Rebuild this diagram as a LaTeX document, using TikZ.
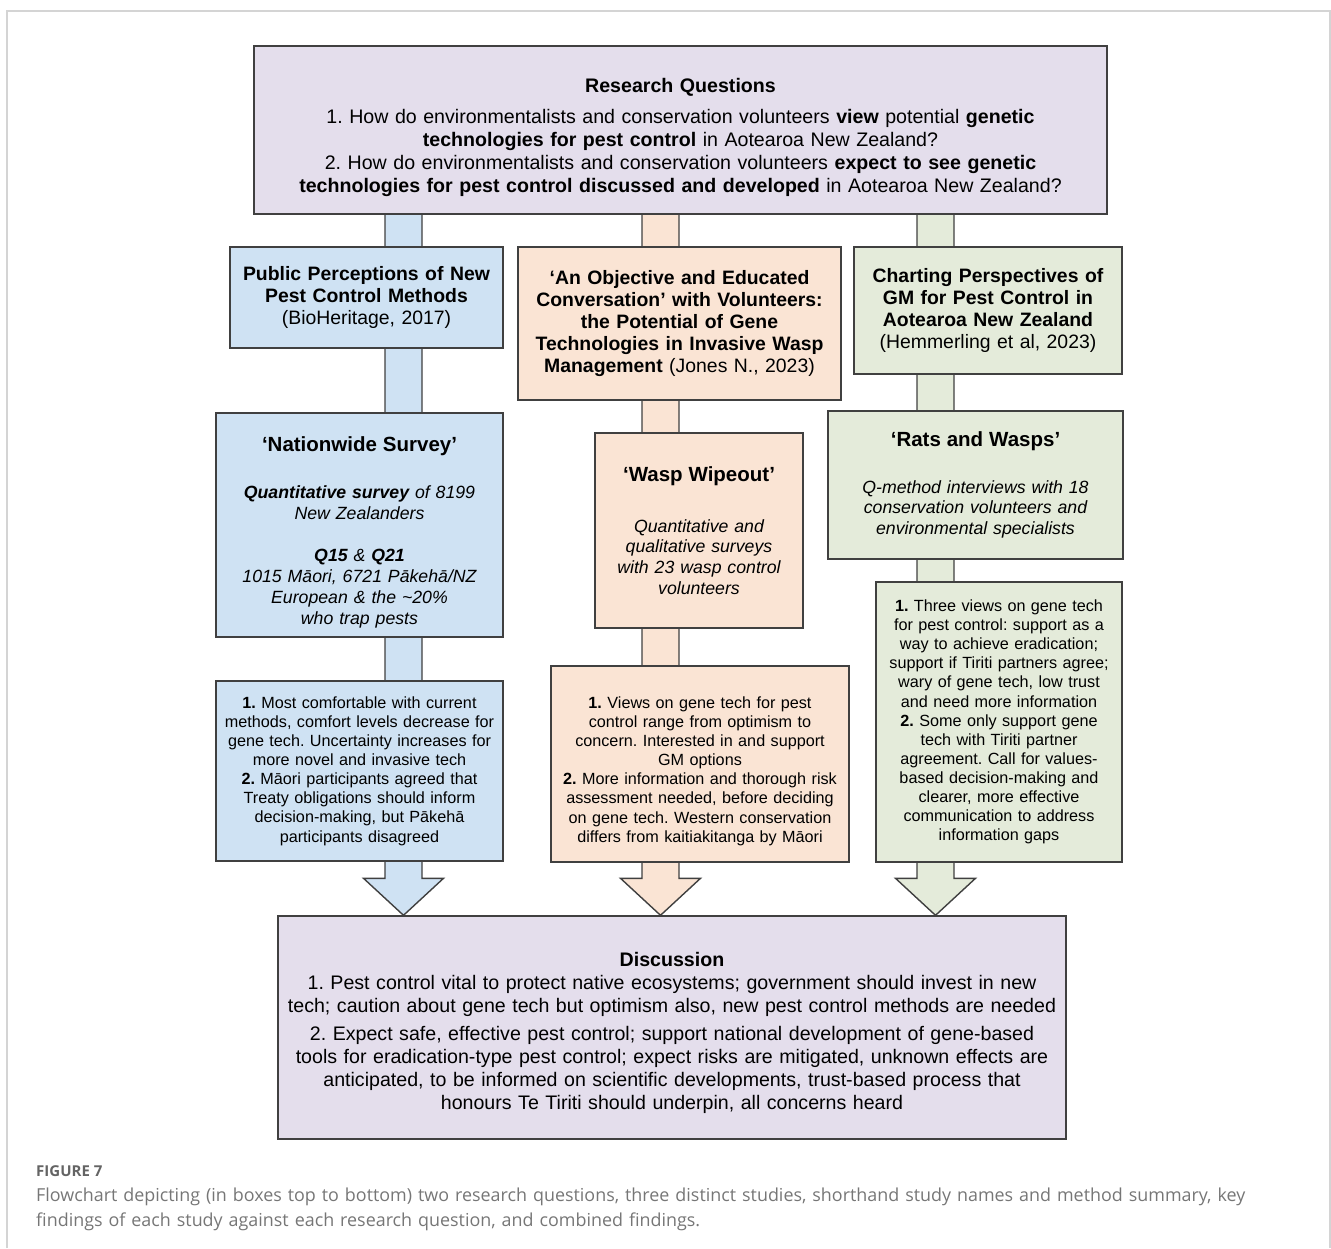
\documentclass[tikz,border=0pt]{standalone}
\usepackage{fontspec}
\setmainfont{Liberation Sans}
\newfontfamily\capfont{Open Sans}
\usetikzlibrary{calc,backgrounds}
\setlength{\parindent}{0pt}
\hyphenpenalty=10000
\frenchspacing

\definecolor{rqfill}{RGB}{228,222,236}
\definecolor{bluefill}{RGB}{207,226,243}
\definecolor{orangefill}{RGB}{250,228,212}
\definecolor{greenfill}{RGB}{228,235,218}
\definecolor{edgec}{RGB}{64,64,64}
\definecolor{framec}{RGB}{212,212,212}
\definecolor{capc}{RGB}{118,118,118}

\newcommand{\setfs}[2]{\fontsize{#1pt}{#2pt}\selectfont}
\newcommand{\toppad}[1]{\rule{0pt}{#1}}

\tikzset{
  box/.style={draw=edgec, line width=1.4pt, inner sep=1pt, align=center},
  stem/.style={draw=edgec, line width=1.4pt},
  headfont/.style={font=\setfs{19.4}{22.2}},
  findfont/.style={font=\setfs{16.2}{19.1}},
}

\begin{document}
\begin{tikzpicture}[x=1pt,y=-1pt]
\useasboundingbox (0,0) rectangle (1331,1248);
\draw[framec, line width=1.2pt] (7,1248) -- (7,11) -- (1330,11) -- (1330,1248);

% research questions
\node[box, fill=rqfill, minimum width=853pt, minimum height=168pt, text width=849pt,
  font=\setfs{19.6}{23}] (rq) at (680.5,130)
  {\toppad{30pt}\textbf{Research Questions}\\[8pt]
   1. How do environmentalists and conservation volunteers \textbf{view} potential \textbf{genetic}\\
   \textbf{technologies for pest control} in Aotearoa New Zealand?\\
   2. How do environmentalists and conservation volunteers \textbf{expect to see genetic}\\
   \textbf{technologies for pest control discussed and developed} in Aotearoa New Zealand?};

% the three studies
\node[box, headfont, fill=bluefill, minimum width=273pt, minimum height=101pt, text width=269pt]
  (pp) at (366.5,297.5)
  {\textbf{Public Perceptions of New}\\ \textbf{Pest Control Methods}\\ (BioHeritage, 2017)};
\node[box, headfont, fill=orangefill, minimum width=323pt, minimum height=153pt, text width=319pt]
  (ob) at (679.5,323.5)
  {\textbf{‘An Objective and Educated}\\ \textbf{Conversation’ with Volunteers:}\\
   \textbf{the Potential of Gene}\\ \textbf{Technologies in Invasive Wasp}\\
   \textbf{Management} (Jones N., 2023)};
\node[box, headfont, fill=greenfill, minimum width=268pt, minimum height=127pt, text width=264pt]
  (ch) at (988,310.5)
  {\textbf{Charting Perspectives of}\\ \textbf{GM for Pest Control in}\\
   \textbf{Aotearoa New Zealand}\\ (Hemmerling et al, 2023)};

% short names and methods
\node[box, fill=bluefill, minimum width=287pt, minimum height=224pt, text width=283pt,
  font=\setfs{17.7}{21}] (ns) at (359.5,525)
  {{\setfs{20.5}{21}\bfseries\toppad{29pt}‘Nationwide Survey’\par}\vspace{26pt}
   \itshape\textbf{Quantitative survey} of 8199\\ New Zealanders\par\vspace{21pt}
   \textbf{Q15} \& \textbf{Q21}\\ 1015 Māori, 6721 Pākehā/NZ\\
   European \& the \textasciitilde 20\%\\ who trap pests};
\node[box, fill=orangefill, minimum width=208pt, minimum height=195pt, text width=204pt,
  font=\setfs{17.7}{20.7}] (ww) at (699,530.5)
  {{\setfs{20.5}{21}\bfseries ‘Wasp Wipeout’\par}\vspace{30pt}
   \itshape Quantitative and\\ qualitative surveys\\ with 23 wasp control\\ volunteers};
\node[box, fill=greenfill, minimum width=295pt, minimum height=148pt, text width=291pt,
  font=\setfs{17.7}{20.5}] (rw) at (975.5,485)
  {{\setfs{20.5}{21}\bfseries ‘Rats and Wasps’\par}\vspace{26pt}
   \itshape Q-method interviews with 18\\ conservation volunteers and\\ environmental specialists};

% key findings
\node[box, findfont, fill=bluefill, minimum width=287pt, minimum height=180pt, text width=283pt]
  (bf) at (359.5,771)
  {\textbf{1.} Most comfortable with current\\ methods, comfort levels decrease for\\
   gene tech. Uncertainty increases for\\ more novel and invasive tech\\
   \textbf{2.} Māori participants agreed that\\ Treaty obligations should inform\\
   decision-making, but Pākehā\\ participants disagreed};
\node[box, findfont, fill=orangefill, minimum width=298pt, minimum height=196pt, text width=294pt]
  (of) at (700,764)
  {\toppad{26pt}\textbf{1.} Views on gene tech for pest\\ control range from optimism to\\
   concern. Interested in and support\\ GM options\\
   \textbf{2.} More information and thorough risk\\ assessment needed, before deciding\\
   on gene tech. Western conservation\\ differs from kaitiakitanga by Māori};
\node[box, findfont, fill=greenfill, minimum width=246pt, minimum height=280pt, text width=244pt]
  (gf) at (999,722)
  {\textbf{1.} Three views on gene tech\\ for pest control: support as a\\
   way to achieve eradication;\\ support if Tiriti partners agree;\\
   wary of gene tech, low trust\\ and need more information\\
   \textbf{2.} Some only support gene\\ tech with Tiriti partner\\
   agreement. Call for values-\\ based decision-making and\\
   clearer, more effective\\ communication to address\\ information gaps};

% discussion
\node[box, fill=rqfill, minimum width=788pt, minimum height=223pt, text width=784pt,
  font=\setfs{19.6}{23}] (dc) at (672,1027.5)
  {\toppad{26pt}\textbf{Discussion}\\
   1. Pest control vital to protect native ecosystems; government should invest in new\\
   tech; caution about gene tech but optimism also, new pest control methods are needed\\[5pt]
   2. Expect safe, effective pest control; support national development of gene-based\\
   tools for eradication-type pest control; expect risks are mitigated, unknown effects are\\
   anticipated, to be informed on scientific developments, trust-based process that\\
   honours Te Tiriti should underpin, all concerns heard};

% stems and block arrows behind the boxes
\coordinate (bluecol) at (403.5,0);
\coordinate (orangecol) at (660.5,0);
\coordinate (greencol) at (935.5,0);
\begin{scope}[on background layer]
\foreach \col in {blue,orange,green}{
  \coordinate (top) at (rq.south -| \col col);
  \coordinate (tip) at (dc.north -| \col col);
  \filldraw[stem, fill=\col fill] ($(top)+(-18.5,0)$) -- ($(tip)+(-18.5,-37)$)
    -- ($(tip)+(-40,-37)$) -- (tip) -- ($(tip)+(40,-37)$)
    -- ($(tip)+(18.5,-37)$) -- ($(top)+(18.5,0)$);
}
\end{scope}

% caption
\node[anchor=base west, inner sep=0pt, font=\capfont\bfseries\setfs{15}{18}, text=capc!85!black]
  (figno) at (36,1176) {FIGURE 7};
\node[anchor=base west, inner sep=0pt, font=\capfont\setfs{17.9}{25}, text=capc, text width=1290pt,
  align=left] (figcap) at (36,1201)
  {Flowchart depicting (in boxes top to bottom) two research questions, three distinct studies, shorthand study names and method summary, key\\
   findings of each study against each research question, and combined findings.};
\end{tikzpicture}
\end{document}
